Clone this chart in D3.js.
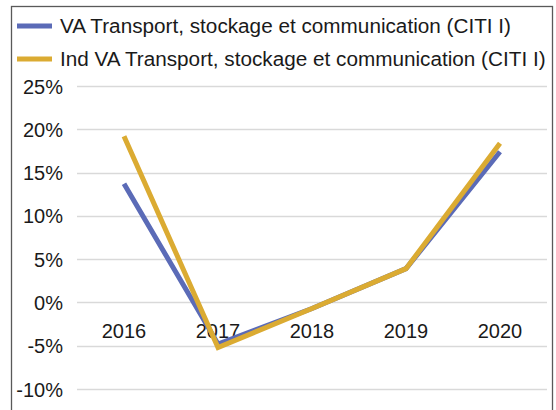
<!DOCTYPE html>
<html>
<head>
<meta charset="utf-8">
<script src="https://cdn.jsdelivr.net/npm/d3@7"></script>
<style>
  html, body { margin: 0; padding: 0; background: #fff; }
  svg { display: block; font-family: "Liberation Sans", Arial, sans-serif; }
</style>
</head>
<body>
<svg id="chart" width="556" height="410"></svg>
<script>
// données (%)
const years = ["2016", "2017", "2018", "2019", "2020"];
const vaTransport = [13.7, -4.8, -0.7, 3.9, 17.4];
const indVaTransport = [19.2, -5.2, -0.7, 3.9, 18.4];
const yTicks = [-10, -5, 0, 5, 10, 15, 20, 25];

const series = [
  { name: "VA Transport, stockage et communication (CITI I)", values: vaTransport, color: "#5b6bb7" },
  { name: "Ind VA Transport, stockage et communication (CITI I)", values: indVaTransport, color: "#dbab32" }
];

const svg = d3.select("#chart");

// cadre
svg.append("rect")
  .attr("x", 11.5).attr("y", 6.5)
  .attr("width", 541).attr("height", 420)
  .attr("fill", "#fff")
  .attr("stroke", "#595959")
  .attr("stroke-width", 1.3);

const plot = { left: 77, right: 547 };

const x = d3.scaleBand().domain(years).range([plot.left, plot.right]);
const y = d3.scaleLinear().domain([-10, 25]).range([389, 86]);

// grille
svg.append("g")
  .selectAll("line")
  .data(yTicks)
  .join("line")
  .attr("x1", plot.left).attr("x2", plot.right)
  .attr("y1", (d) => Math.round(y(d)) + 0.5).attr("y2", (d) => Math.round(y(d)) + 0.5)
  .attr("stroke", "#d9d9d9")
  .attr("stroke-width", 1.3);

// axe Y
const yAxis = svg.append("g")
  .attr("transform", `translate(${plot.left - 14},0)`)
  .call(d3.axisLeft(y).tickValues(yTicks).tickSize(0).tickPadding(0).tickFormat((d) => d + "%"));
yAxis.select(".domain").remove();
yAxis.selectAll("text")
  .attr("fill", "#1a1a1a")
  .attr("font-size", 20)
  .attr("dy", "0.35em");

// axe X (étiquettes au niveau du zéro)
const xAxis = svg.append("g")
  .attr("transform", `translate(0,${y(0)})`)
  .call(d3.axisBottom(x).tickSize(0).tickPadding(0));
xAxis.select(".domain").remove();
xAxis.selectAll("text")
  .attr("fill", "#1a1a1a")
  .attr("font-size", 20)
  .attr("dy", null)
  .attr("y", 36);

// courbes
const line = d3.line()
  .x((d, i) => x(years[i]) + x.bandwidth() / 2)
  .y((d) => y(d));

svg.append("g")
  .selectAll("path")
  .data(series)
  .join("path")
  .attr("d", (s) => line(s.values))
  .attr("fill", "none")
  .attr("stroke", (s) => s.color)
  .attr("stroke-width", 5)
  .attr("stroke-linejoin", "miter");

// légende
const legend = svg.append("g")
  .selectAll("g")
  .data(series)
  .join("g")
  .attr("transform", (d, i) => `translate(17,${26 + i * 33})`);

legend.append("line")
  .attr("x1", 0).attr("x2", 35)
  .attr("stroke", (d) => d.color)
  .attr("stroke-width", 5);

legend.append("text")
  .attr("x", 43)
  .attr("dy", "0.35em")
  .attr("font-size", 19)
  .attr("fill", "#1a1a1a")
  .text((d) => d.name);

// ajuster la taille pour tenir la largeur de la légende d'origine
const texts = legend.selectAll("text").nodes();
const longest = texts[1].getComputedTextLength();
const fs = 19 * 486 / longest;
legend.selectAll("text").attr("font-size", fs);
</script>
</body>
</html>
